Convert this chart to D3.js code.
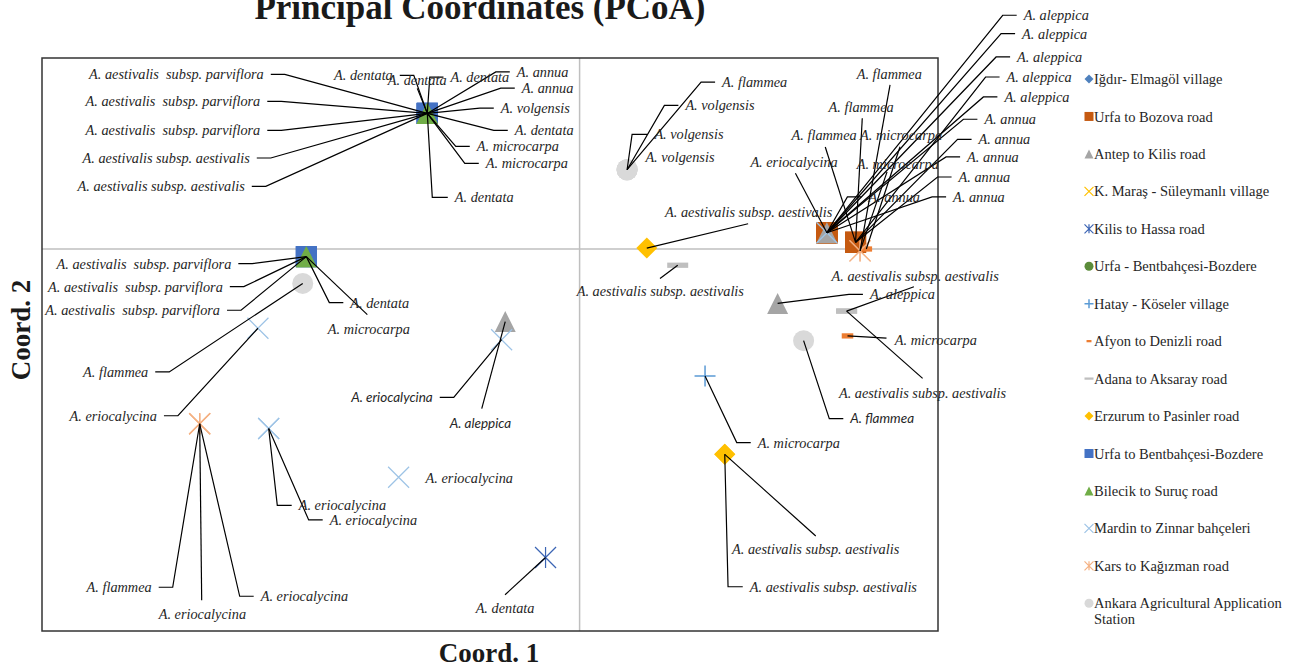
<!DOCTYPE html>
<html>
<head>
<meta charset="utf-8">
<script src="https://cdn.jsdelivr.net/npm/d3@7"></script>
<style>
  body { margin: 0; background: #fff; }
  text { font-family: "Liberation Serif", "Times New Roman", serif; white-space: pre; }
</style>
</head>
<body>
<svg id="chart" width="1295" height="666"></svg>
<script>
// collection sites (legend order = drawing order)
const sites = [
  "Iğdır- Elmagöl village", "Urfa to Bozova road", "Antep to Kilis road",
  "K. Maraş - Süleymanlı village", "Kilis to Hassa road", "Urfa - Bentbahçesi-Bozdere",
  "Hatay - Köseler village", "Afyon to Denizli road", "Adana to Aksaray road",
  "Erzurum to Pasinler road", "Urfa to Bentbahçesi-Bozdere", "Bilecik to Suruç road",
  "Mardin to Zinnar bahçeleri", "Kars to Kağızman road", "Ankara Agricultural Application Station"
];
const siteShapes = ["diamond", "square", "triangle", "x", "star", "circle", "plus", "shortdash",
  "dash", "diamond", "square", "triangle", "x", "star", "circle"];
const siteColors = ["#4f81bd", "#c55a11", "#a5a5a5", "#ffc000", "#3b64b4", "#5b8c3a", "#5b9bd5",
  "#ed7d31", "#bfbfbf", "#ffc000", "#4472c4", "#70ad47", "#9dc3e6", "#f4b183", "#d9d9d9"];

// samples: [site index, species, coord 1, coord 2]
const samples = [
  [10, "A. aestivalis  subsp. parviflora", -0.170, 0.142],
  [10, "A. aestivalis  subsp. parviflora", -0.170, 0.142],
  [11, "A. aestivalis  subsp. parviflora", -0.170, 0.142],
  [10, "A. aestivalis subsp. aestivalis", -0.170, 0.142],
  [11, "A. aestivalis subsp. aestivalis", -0.170, 0.142],
  [10, "A. dentata", -0.170, 0.142],
  [11, "A. dentata", -0.170, 0.142],
  [10, "A. dentata", -0.170, 0.142],
  [11, "A. annua", -0.170, 0.142],
  [10, "A. annua", -0.170, 0.142],
  [11, "A. volgensis", -0.170, 0.142],
  [10, "A. dentata", -0.170, 0.142],
  [11, "A. microcarpa", -0.170, 0.142],
  [5, "A. microcarpa", -0.170, 0.142],
  [5, "A. dentata", -0.170, 0.142],
  [10, "A. aestivalis  subsp. parviflora", -0.305, -0.008],
  [11, "A. aestivalis  subsp. parviflora", -0.305, -0.008],
  [10, "A. aestivalis  subsp. parviflora", -0.305, -0.008],
  [11, "A. dentata", -0.305, -0.008],
  [10, "A. microcarpa", -0.305, -0.008],
  [14, "A. flammea", -0.309, -0.036],
  [12, "A. eriocalycina", -0.359, -0.083],
  [2, "A. aleppica", -0.083, -0.076],
  [12, "A. eriocalycina", -0.087, -0.095],
  [13, "A. flammea", -0.424, -0.183],
  [13, "A. eriocalycina", -0.424, -0.183],
  [13, "A. eriocalycina", -0.424, -0.183],
  [12, "A. eriocalycina", -0.347, -0.188],
  [12, "A. eriocalycina", -0.347, -0.188],
  [12, "A. eriocalycina", -0.202, -0.239],
  [4, "A. dentata", -0.038, -0.323],
  [14, "A. flammea", 0.053, 0.083],
  [14, "A. volgensis", 0.053, 0.083],
  [14, "A. volgensis", 0.053, 0.083],
  [14, "A. volgensis", 0.053, 0.083],
  [9, "A. aestivalis subsp. aestivalis", 0.075, 0.001],
  [8, "A. aestivalis subsp. aestivalis", 0.1095, -0.017],
  [12, "A. eriocalycina", 0.276, 0.017],
  [2, "A. annua", 0.276, 0.017],
  [1, "A. aleppica", 0.276, 0.017],
  [1, "A. aleppica", 0.276, 0.017],
  [1, "A. aleppica", 0.276, 0.017],
  [1, "A. aleppica", 0.308, 0.007],
  [1, "A. aleppica", 0.276, 0.017],
  [1, "A. annua", 0.276, 0.017],
  [1, "A. annua", 0.308, 0.007],
  [1, "A. annua", 0.276, 0.017],
  [1, "A. annua", 0.308, 0.007],
  [1, "A. annua", 0.276, 0.017],
  [1, "A. flammea", 0.308, 0.007],
  [1, "A. flammea", 0.308, 0.007],
  [13, "A. flammea", 0.313, -0.002],
  [13, "A. microcarpa", 0.313, -0.002],
  [7, "A. microcarpa", 0.320, 0.000],
  [2, "A. aleppica", 0.221, -0.057],
  [8, "A. aestivalis subsp. aestivalis", 0.298, -0.065],
  [8, "A. aestivalis subsp. aestivalis", 0.298, -0.065],
  [7, "A. microcarpa", 0.299, -0.091],
  [14, "A. flammea", 0.250, -0.096],
  [6, "A. microcarpa", 0.140, -0.133],
  [9, "A. aestivalis subsp. aestivalis", 0.162, -0.215],
  [9, "A. aestivalis subsp. aestivalis", 0.162, -0.215]
];

// data label placement, px from the point: [dx, dy, anchor, leader, lx, ly, sans]
// leader: e = elbow to label side, v = elbow at lx, d = straight to (lx, ly)
const labelLayout = [
  [-163.5, -39, "end", "e"], [-167, -12, "end", "e"], [-167, 17, "end", "e"],
  [-177.5, 44.6, "end", "e"], [-182.5, 73, "end", "e"],
  [-34.5, -38, "end", "e"], [-39.5, -33, "start", "d", -10, -25], [23.2, -36.3, "start", "v", 2.5],
  [89.5, -41.5, "start", "e"], [94.5, -25.3, "start", "e"], [73.5, -5.3, "start", "e"],
  [87.5, 17, "start", "e"], [49.5, 33, "start", "e"], [58.5, 50, "start", "e"],
  [27.5, 84, "start", "v", 5],
  [-75, 7, "end", "e"], [-83.5, 30, "end", "e"], [-86.3, 53.6, "end", "e"],
  [44, 46, "start", "e"], [21.5, 72, "start", "d", 61, 58],
  [-154.5, 88.5, "end", "e"],
  [-101, 87.5, "end", "e"],
  [-55.5, 101.5, "start", "d", -23.5, 87, true],
  [-68.9, 57.7, "end", "e", 0, 0, true],
  [-48, 163.5, "end", "e"], [-41, 190.5, "start", "d", 2, 176.5], [61, 172.5, "start", "e"],
  [30, 76.8, "start", "v", 8.6], [61, 91.4, "start", "e"],
  [27, 0.5, "start", null],
  [-69.9, 51, "start", "d", -40.5, 37.3],
  [95, -87.6, "start", "e"], [58.3, -64.3, "start", "e"], [27.3, -35.3, "start", "v", 5],
  [18.3, -12.6, "start", null],
  [18.3, -36.3, "start", "d", 101.3, -24.3],
  [-101, 26, "start", "d", -17.7, 13.3],
  [-76.5, -70.5, "start", "d", -31.5, -59.5],
  [41.5, -35.8, "start", "e"],
  [196.8, -217.5, "start", "e"], [195.2, -199.2, "start", "e"], [190.2, -175.8, "start", "e"],
  [151, -165.3, "start", "e"], [177.5, -135.8, "start", "e"],
  [157.5, -113.5, "start", "e"], [123, -103, "start", "e"], [140.2, -75.8, "start", "e"],
  [103, -65.3, "start", "e"], [126.2, -35.8, "start", "e"],
  [-27, -135.3, "start", "d", 6.7, -124], [-64, -107, "start", "d", -30.3, -95.3],
  [-3.3, -177, "start", "d", 30, -166], [-3.3, -87, "start", "d", 27, -79],
  [-6.3, -114, "start", "d", 33.7, -102.3],
  [92.3, -9, "start", "e"],
  [-15, -35.3, "start", "d", 67.3, -24.3], [-7.7, 81.7, "start", "d", 76, 67.3],
  [47.3, 4, "start", "d", 39, 2.3],
  [46.7, 78, "start", "e", 0, 0, true],
  [52.7, 66.6, "start", "e"],
  [7.3, 95, "start", "d", 91, 81.7], [25, 132.4, "start", "v", 3.3]
];

const svg = d3.select('#chart');
const x = d3.scaleLinear().domain([-0.6, 0.4]).range([42, 938]);
const y = d3.scaleLinear().domain([-0.4, 0.2]).range([631, 58]);

// marker drawing, s = nominal width
function marker(g, shape, s, color) {
  const h = s / 2;
  if (shape === 'square') {
    g.append('rect').attr('x', -h).attr('y', -h).attr('width', s).attr('height', s).attr('fill', color);
  } else if (shape === 'diamond') {
    g.append('path').attr('d', `M0,${-h}L${h},0L0,${h}L${-h},0Z`).attr('fill', color);
  } else if (shape === 'triangle') {
    g.append('path').attr('d', `M0,${-h}L${h},${h}L${-h},${h}Z`).attr('fill', color);
  } else if (shape === 'circle') {
    g.append('circle').attr('r', h).attr('fill', color);
  } else if (shape === 'dash' || shape === 'shortdash') {
    const w = shape === 'dash' ? s : s * 0.55;
    const t = s * 0.25;
    g.append('rect').attr('x', -w / 2).attr('y', -t / 2).attr('width', w).attr('height', t).attr('fill', color);
  } else {
    let d = '';
    if (shape === 'x' || shape === 'star') d += `M${-h},${-h}L${h},${h}M${h},${-h}L${-h},${h}`;
    if (shape === 'star') d += `M0,${-h}L0,${h}`;
    if (shape === 'plus') d += `M${-h},0L${h},0M0,${-h}L0,${h}`;
    g.append('path').attr('d', d).attr('fill', 'none').attr('stroke', color)
      .attr('stroke-width', shape === 'plus' ? 1.5 : 1.2);
  }
}

// title and axis titles
svg.append('text').attr('x', 480).attr('y', 19).attr('text-anchor', 'middle')
  .style('font-size', '35px').style('font-weight', 'bold').attr('fill', '#1a1a1a')
  .text('Principal Coordinates (PCoA)');
svg.append('text').attr('x', 489).attr('y', 662).attr('text-anchor', 'middle')
  .style('font-size', '27px').style('font-weight', 'bold').attr('fill', '#1a1a1a')
  .text('Coord. 1');
svg.append('text').attr('transform', 'translate(30,330) rotate(-90)').attr('text-anchor', 'middle')
  .style('font-size', '27px').style('font-weight', 'bold').attr('fill', '#1a1a1a')
  .text('Coord. 2');

// zero lines
const plot = svg.append('g');
plot.append('line').attr('x1', x(0)).attr('x2', x(0)).attr('y1', y(0.2)).attr('y2', y(-0.4))
  .attr('stroke', '#bfbfbf').attr('stroke-width', 1.5);
plot.append('line').attr('x1', x(-0.6)).attr('x2', x(0.4)).attr('y1', y(0)).attr('y2', y(0))
  .attr('stroke', '#bfbfbf').attr('stroke-width', 1.5);
plot.append('rect').attr('x', x(-0.6)).attr('y', y(0.2))
  .attr('width', x(0.4) - x(-0.6)).attr('height', y(-0.4) - y(0.2))
  .attr('fill', 'none').attr('stroke', '#333').attr('stroke-width', 1.5);

// markers, series by series
const order = d3.range(samples.length).sort((a, b) => samples[a][0] - samples[b][0] || a - b);
order.forEach(i => {
  const s = samples[i];
  const g = plot.append('g').attr('transform', `translate(${x(s[2])},${y(s[3])})`);
  marker(g, siteShapes[s[0]], 21, siteColors[s[0]]);
});

// leader lines
const lines = plot.append('g');
const labels = plot.append('g');
samples.forEach((s, i) => {
  const [dx, dy, anchor, leader, lx, ly, sans] = labelLayout[i];
  const px = x(s[2]), py = y(s[3]);
  const tx = px + dx, ty = py + dy;
  let pts = null;
  if (leader === 'e' || leader === 'v') {
    const dir = anchor === 'end' ? 1 : -1;
    const ax = tx + 7 * dir;
    const ex = leader === 'e' ? ax + 14 * dir : px + lx;
    pts = [[px, py], [ex, ty], [ax, ty]];
  } else if (leader === 'd') {
    pts = [[px, py], [px + lx, py + ly]];
  }
  if (pts) {
    lines.append('path').attr('d', d3.line()(pts))
      .attr('fill', 'none').attr('stroke', '#000').attr('stroke-width', 1.2);
  }
  labels.append('text').attr('x', tx).attr('y', ty).attr('dy', '0.35em')
    .attr('text-anchor', anchor)
    .style('font-family', sans ? 'Lato, "Liberation Sans", sans-serif' : null)
    .style('font-size', sans ? '13.5px' : '14.3px')
    .style('font-style', 'italic')
    .attr('fill', '#262626')
    .text(s[1]);
});

// legend
const legend = svg.append('g');
sites.forEach((name, i) => {
  const ly = 79 + i * 37.45;
  const g = legend.append('g').attr('transform', `translate(1089,${ly})`);
  marker(g, siteShapes[i], 9, siteColors[i]);
  const t = legend.append('text').attr('x', 1094).attr('y', ly).attr('dy', '0.35em')
    .style('font-size', '14.5px').attr('fill', '#262626');
  const cut = name.indexOf(' Station');
  if (cut > 0) {
    t.append('tspan').text(name.slice(0, cut));
    t.append('tspan').attr('x', 1094).attr('dy', '1.1em').text(name.slice(cut + 1));
  } else {
    t.text(name);
  }
});
</script>
</body>
</html>
